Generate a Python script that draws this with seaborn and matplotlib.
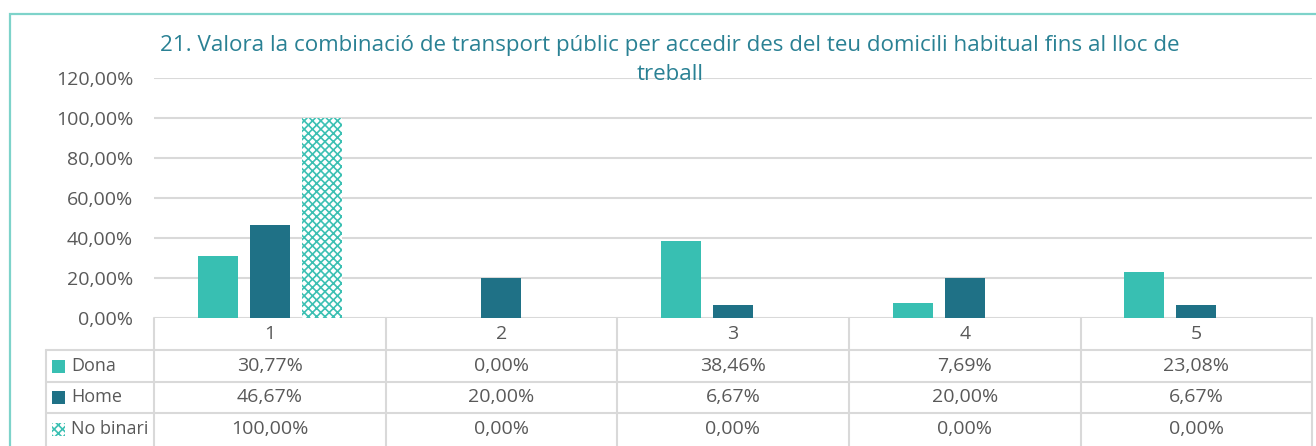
import matplotlib
matplotlib.use("Agg")
import matplotlib.pyplot as plt
from matplotlib.lines import Line2D
from matplotlib.patches import Rectangle
import seaborn as sns
import pandas as pd

categories = ["1", "2", "3", "4", "5"]
series_names = ["Dona", "Home", "No binari"]
dona = [30.77, 0.00, 38.46, 7.69, 23.08]
home = [46.67, 20.00, 6.67, 20.00, 6.67]
no_binari = [100.00, 0.00, 0.00, 0.00, 0.00]
y_ticks = [0, 20, 40, 60, 80, 100, 120]
title = ("21. Valora la combinació de transport públic per accedir des del teu domicili habitual fins al lloc de\n"
         "treball")

colors = {"Dona": "#38BFB2", "Home": "#1F7186", "No binari": "#FFFFFF"}
hatch_color = "#3CC0B3"
text_color = "#595959"
grid_color = "#D9D9D9"

values = {"Dona": dona, "Home": home, "No binari": no_binari}
rows = []
for s in series_names:
    for c, v in zip(categories, values[s]):
        rows.append({"cat": c, "serie": s, "val": v})
df = pd.DataFrame(rows)

W, H = 1316, 446
def fx(x):
    return x / W
def fy(y):
    return 1 - y / H

sns.set_theme(style="white")
plt.rcParams["font.family"] = ["Open Sans", "DejaVu Sans"]
plt.rcParams["hatch.linewidth"] = 1.2

fig = plt.figure(figsize=(W / 100, H / 100), dpi=100)
ax = fig.add_axes([fx(154), fy(318), fx(1312) - fx(154), fy(78) - fy(318)])

sns.barplot(data=df, x="cat", y="val", hue="serie", order=categories,
            hue_order=series_names, palette=colors, width=0.672, gap=0.23,
            ax=ax, legend=False, linewidth=0, saturation=1)

# hatch the No binari bars
n = len(categories)
for i, p in enumerate(ax.patches):
    if i // n == 2:
        p.set_hatch("xxxx")
        p.set_edgecolor(hatch_color)
        p.set_linewidth(0)

ax.set_ylim(0, 120)
ax.set_xlim(-0.5, n - 0.5)
ax.set_yticks(y_ticks)
ax.set_yticklabels([f"{t:.2f}".replace(".", ",") + "%" for t in y_ticks],
                   fontsize=14, color=text_color)
ax.set_xticks([])
ax.set_xlabel("")
ax.set_ylabel("")
ax.tick_params(axis="y", length=0, pad=15)
ax.yaxis.grid(True, color=grid_color, linewidth=1.5)
ax.set_axisbelow(True)
for sp in ax.spines.values():
    sp.set_visible(False)

fig.text(fx(670), fy(45), title.split("\n")[0], ha="center", va="center",
         fontsize=16.1, color="#2A8194")
fig.text(fx(670), fy(75), title.split("\n")[1], ha="center", va="center",
         fontsize=16.1, color="#2A8194")

# border
fig.add_artist(Rectangle((fx(10), fy(460)), fx(1330) - fx(10), fy(14) - fy(460),
                         transform=fig.transFigure, fill=False,
                         edgecolor="#7ED3CA", linewidth=1.6))

# data table
def hline(y, x0, x1):
    fig.add_artist(Line2D([fx(x0), fx(x1)], [fy(y), fy(y)], transform=fig.transFigure,
                          color=grid_color, linewidth=1.5))
def vline(x, y0, y1):
    fig.add_artist(Line2D([fx(x), fx(x)], [fy(y0), fy(y1)], transform=fig.transFigure,
                          color=grid_color, linewidth=1.5))

col_edges = [154, 386, 617, 849, 1081, 1312]
row_edges = [318, 350, 382, 413, 446]
for y in row_edges[1:-1]:
    hline(y, 46, 1312)
for x in col_edges:
    vline(x, 318, 446)
vline(46, 350, 446)

for j, c in enumerate(categories):
    xc = (col_edges[j] + col_edges[j + 1]) / 2
    fig.text(fx(xc), fy(334), c, ha="center", va="center", fontsize=14, color=text_color)
    for r, s in enumerate(series_names):
        yc = (row_edges[r + 1] + row_edges[r + 2]) / 2
        txt = f"{values[s][j]:.2f}".replace(".", ",") + "%"
        fig.text(fx(xc), fy(yc), txt, ha="center", va="center", fontsize=14, color=text_color)

for r, s in enumerate(series_names):
    yc = (row_edges[r + 1] + row_edges[r + 2]) / 2
    if s == "No binari":
        sq = Rectangle((fx(52), fy(yc + 6.5)), fx(13), fy(0) - fy(13), transform=fig.transFigure,
                       facecolor="white", edgecolor=hatch_color, hatch="xxxx", linewidth=0)
    else:
        sq = Rectangle((fx(52), fy(yc + 6.5)), fx(13), fy(0) - fy(13), transform=fig.transFigure,
                       facecolor=colors[s], linewidth=0)
    fig.add_artist(sq)
    fig.text(fx(71), fy(yc), s, ha="left", va="center", fontsize=13, color=text_color)

fig.savefig("out.png", dpi=100)
